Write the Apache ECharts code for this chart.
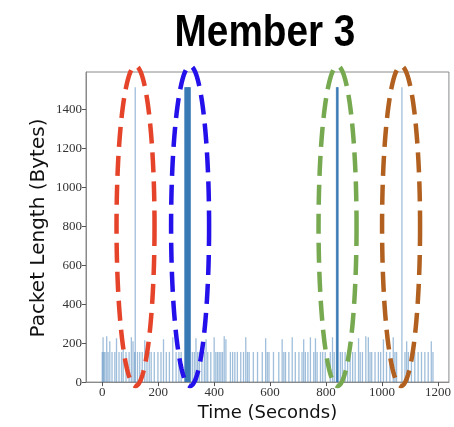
<!DOCTYPE html>
<html>
<head>
<meta charset="utf-8">
<script src="https://cdn.jsdelivr.net/npm/echarts@6/dist/echarts.min.js"></script>
<style>
  html, body { margin: 0; padding: 0; background: #fff; }
  #chart { width: 454px; height: 427px; }
</style>
</head>
<body>
<div id="chart"></div>
<script>
// packet arrival times (seconds) and their lengths (bytes)
const times = [
  0, 3, 6, 10, 16, 21, 27, 35, 45, 51, 60, 69, 75, 85, 96, 104, 110, 116, 118, 126, 134, 143, 152, 160,
  168, 175, 186, 199, 210, 219, 229, 240, 252, 264, 274, 282,
  295, 296, 297, 298, 299, 300, 301, 302, 303, 304, 305, 306, 307, 308, 309, 310, 311, 312, 313, 314, 315,
  322, 329, 335, 341, 347, 356, 365, 371, 377, 388, 400, 406, 412, 418, 424, 430, 436, 442, 458, 466,
  474, 483, 495, 505, 513, 519, 525, 540, 555, 572, 584, 590, 596, 612, 631, 643, 649, 655, 667, 679,
  690, 703, 714, 720, 726, 735, 744, 756, 762, 768, 780, 788, 797, 815, 823, 829,
  837, 838, 839, 840, 841, 842, 843,
  851, 858, 868, 877, 886, 895, 904, 916, 922, 930, 942, 951, 957, 963, 975, 987, 995, 1005, 1016,
  1028, 1040, 1046, 1052, 1071, 1082, 1088, 1094, 1105, 1117, 1129, 1141, 1153, 1165, 1176, 1182
];
const lengths = [
  155, 230, 155, 155, 235, 155, 210, 155, 155, 225, 155, 155, 200, 155, 155, 230, 210, 155, 1514, 155, 155, 155, 215, 155,
  155, 155, 155, 155, 155, 220, 155, 155, 230, 155, 155, 155,
  1514, 1514, 1514, 1514, 1514, 1514, 1514, 1514, 1514, 1514, 1514, 1514, 1514, 1514, 1514, 1514, 1514, 1514, 1514, 1514, 1514,
  155, 155, 225, 155, 155, 155, 155, 220, 155, 155, 230, 155, 155, 155, 155, 155, 235, 220, 155, 155,
  155, 155, 155, 155, 230, 155, 155, 155, 155, 155, 225, 155, 155, 155, 155, 220, 155, 155, 155, 230,
  155, 155, 155, 220, 155, 155, 230, 155, 225, 155, 155, 155, 155, 155, 230, 155,
  1514, 1514, 1514, 1514, 1514, 1514, 1514,
  155, 155, 155, 155, 210, 155, 155, 225, 155, 155, 235, 230, 155, 155, 155, 155, 155, 220, 155,
  155, 230, 155, 155, 1514, 155, 210, 155, 155, 155, 155, 155, 155, 155, 210, 155
];
const xTicks = [0, 200, 400, 600, 800, 1000, 1200];
const yTicks = [0, 200, 400, 600, 800, 1000, 1200, 1400];
// the four circled bursts: centre time and ring colour
const markTimes = [119, 314, 841, 1068];
const markColors = ['#e5432a', '#2410ea', '#77a950', '#b1601f'];

const chart = echarts.init(document.getElementById('chart'));

const tickFont = { fontFamily: 'Liberation Serif', fontSize: 13, color: '#333' };

chart.setOption({
  animation: false,
  grid: {
    left: 86, right: 3, top: 72, bottom: 44,
    show: true, borderColor: '#8a8a8a', borderWidth: 1
  },
  xAxis: {
    type: 'value', min: -58, max: 1239,
    name: 'Time (Seconds)', nameLocation: 'middle', nameGap: 20,
    nameTextStyle: { fontFamily: 'DejaVu Sans', fontSize: 18, color: '#111' },
    axisLine: { show: true, onZero: false, lineStyle: { color: '#8a8a8a' } },
    axisTick: { show: true, length: 4, customValues: xTicks, lineStyle: { color: '#555' } },
    axisLabel: Object.assign({ customValues: xTicks, margin: 4, formatter: v => String(v) }, tickFont),
    splitLine: { show: false }
  },
  yAxis: {
    type: 'value', min: 0, max: 1592,
    axisLine: { show: true, onZero: false, lineStyle: { color: '#8a8a8a' } },
    axisTick: { show: true, length: 4, customValues: yTicks, lineStyle: { color: '#555' } },
    axisLabel: Object.assign({ customValues: yTicks, margin: 4, formatter: v => String(v) }, tickFont),
    splitLine: { show: false }
  },
  series: [{
    type: 'bar',
    barWidth: 1.3,
    data: times.map((t, i) => [t, lengths[i]]),
    itemStyle: { color: '#2a6fb0', opacity: 0.45 }
  }]
});

// dashed rings round the bursts, centred on the data times
const ringY = 226, ringRy = 160, ringRx = 19;
const rings = markTimes.map((t, k) => {
  const cx = chart.convertToPixel({ xAxisIndex: 0 }, t);
  const pts = [];
  for (let a = 0; a <= 120; a++) {
    const th = a / 120 * Math.PI * 2;
    pts.push([cx + ringRx * Math.cos(th), ringY + ringRy * Math.sin(th)]);
  }
  return {
    type: 'polyline',
    shape: { points: pts },
    style: { stroke: markColors[k], lineWidth: 4.5, lineDash: [20, 9], fill: null },
    z: 100
  };
});

rings.push({
  type: 'text',
  x: 265, y: 34,
  scaleX: 0.88,
  style: {
    text: 'Member 3', fontFamily: 'Liberation Sans', fontWeight: 'bold', fontSize: 44,
    fill: '#000', align: 'center', verticalAlign: 'middle'
  }
});

// y axis title, placed by hand so the label-overlap shift does not move it
rings.push({
  type: 'text',
  x: 39, y: 228,
  rotation: Math.PI / 2,
  style: {
    text: 'Packet Length (Bytes)', fontFamily: 'DejaVu Sans', fontSize: 20,
    fill: '#111', align: 'center', verticalAlign: 'middle'
  }
});

chart.setOption({ graphic: { elements: rings } });
</script>
</body>
</html>
